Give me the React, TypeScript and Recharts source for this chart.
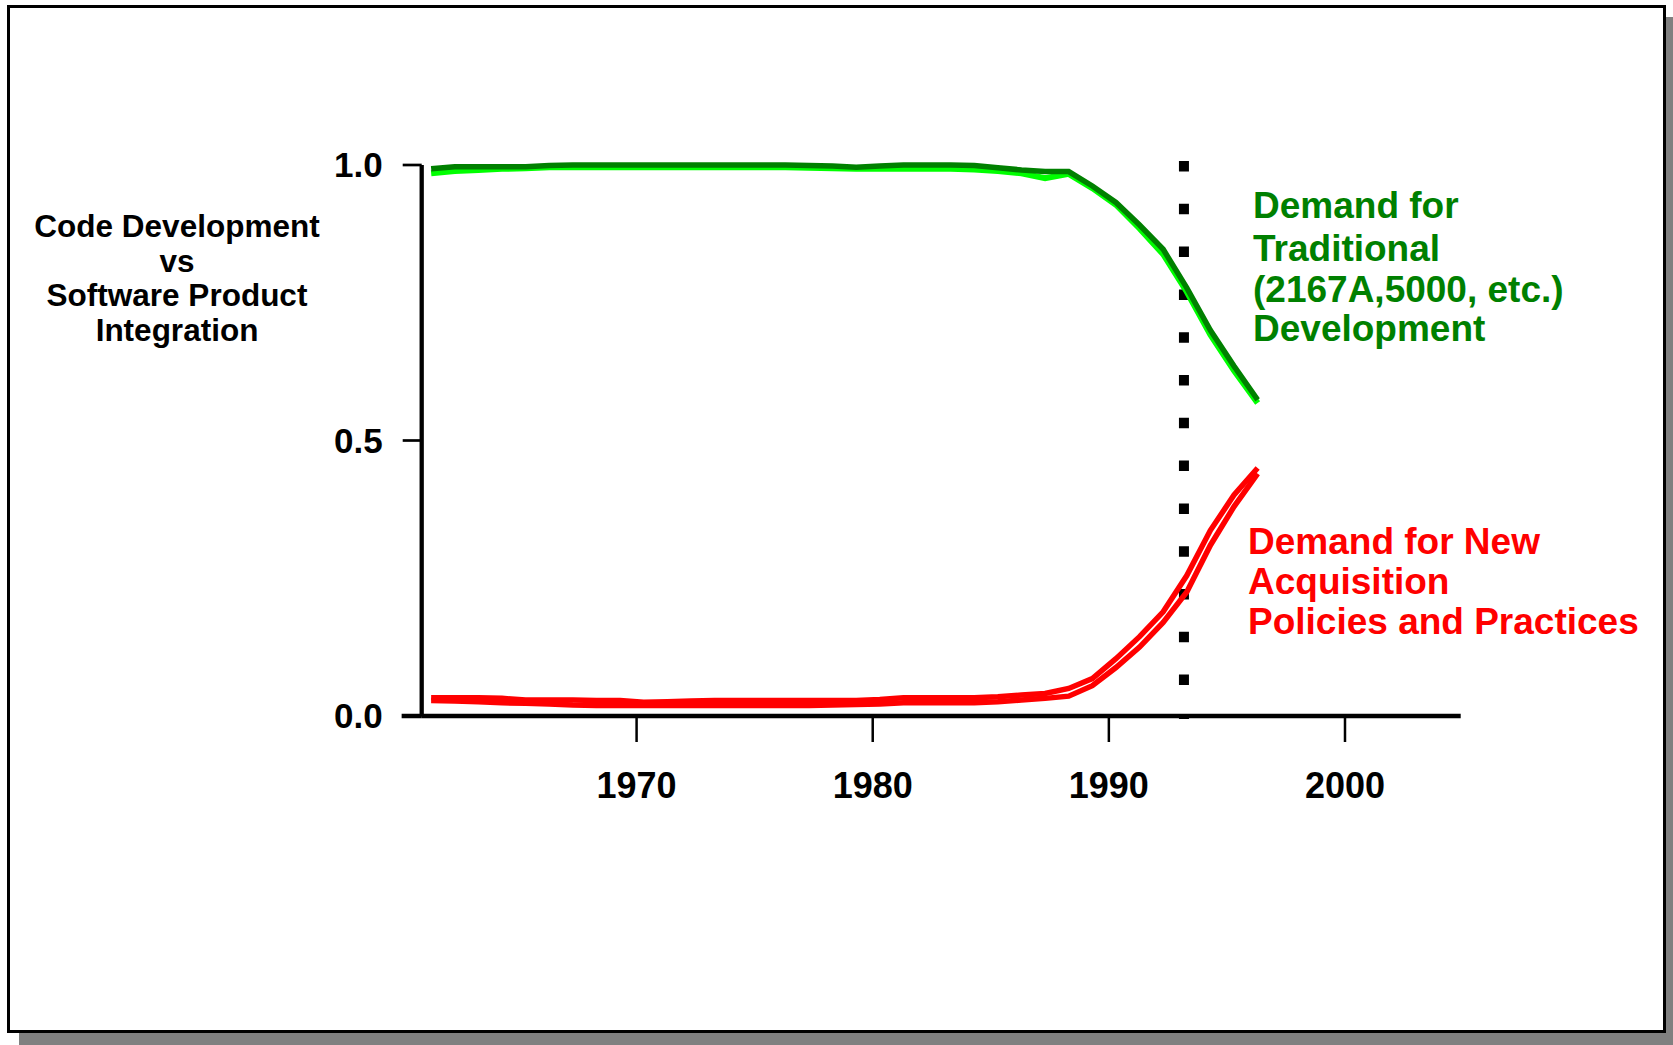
import { LineChart, Line, XAxis, YAxis, ReferenceLine } from "recharts";

const FONT = '"Liberation Sans", Arial, Helvetica, sans-serif';

// mid-year sample points
const years = [
  1961.3, 1962.3, 1963.3, 1964.3, 1965.3, 1966.3, 1967.3, 1968.3, 1969.3, 1970.3, 1971.3, 1972.3,
  1973.3, 1974.3, 1975.3, 1976.3, 1977.3, 1978.3, 1979.3, 1980.3, 1981.3, 1982.3, 1983.3, 1984.3,
  1985.3, 1986.3, 1987.3, 1988.3, 1989.3, 1990.3, 1991.3, 1992.3, 1993.3, 1994.3, 1995.3, 1996.3,
];

const traditionalDark = [
  0.993, 0.997, 0.997, 0.997, 0.997, 0.999, 1.0, 1.0, 1.0, 1.0, 1.0, 1.0,
  1.0, 1.0, 1.0, 1.0, 0.999, 0.998, 0.996, 0.998, 1.0, 1.0, 1.0, 0.999,
  0.995, 0.991, 0.988, 0.988, 0.962, 0.932, 0.891, 0.847, 0.777, 0.7, 0.635, 0.574,
];

const traditionalLight = [
  0.985, 0.989, 0.991, 0.993, 0.994, 0.996, 0.996, 0.996, 0.996, 0.996, 0.996, 0.996,
  0.996, 0.996, 0.996, 0.996, 0.995, 0.994, 0.993, 0.993, 0.993, 0.993, 0.993, 0.992,
  0.989, 0.985, 0.976, 0.984, 0.958, 0.928, 0.885, 0.838, 0.77, 0.692, 0.627, 0.568,
];

const acquisitionUpper = [
  0.033, 0.033, 0.033, 0.032, 0.029, 0.029, 0.029, 0.028, 0.028, 0.025, 0.026, 0.027,
  0.028, 0.028, 0.028, 0.028, 0.028, 0.028, 0.028, 0.03, 0.033, 0.033, 0.033, 0.033,
  0.035, 0.038, 0.041, 0.05, 0.068, 0.104, 0.144, 0.189, 0.255, 0.337, 0.401, 0.45,
];

const acquisitionLower = [
  0.028, 0.027, 0.026, 0.024, 0.023, 0.022, 0.02, 0.019, 0.019, 0.019, 0.019, 0.019,
  0.019, 0.019, 0.019, 0.019, 0.019, 0.02, 0.021, 0.022, 0.024, 0.024, 0.024, 0.024,
  0.026, 0.029, 0.032, 0.036, 0.055, 0.088, 0.125, 0.17, 0.225, 0.31, 0.38, 0.44,
];

const xTicks = [1970, 1980, 1990, 2000];
const yTicks = [0, 0.5, 1];
const cutoverYear = 1993.18;

const yLabelLines = ["Code Development", "vs", "Software Product", "Integration"];
const greenNoteLines = ["Demand for", "Traditional", "(2167A,5000, etc.)", "Development"];
const redNoteLines = ["Demand for New", "Acquisition", "Policies and Practices"];

const data = years.map((year, i) => ({
  year,
  darkGreen: traditionalDark[i],
  lightGreen: traditionalLight[i],
  redUpper: acquisitionUpper[i],
  redLower: acquisitionLower[i],
}));

export default function App() {
  return (
    <div style={{ position: "absolute", left: 0, top: 0, width: 1673, height: 1045, overflow: "hidden", background: "#fff" }}>
      {/* drop shadow + frame */}
      <div style={{ position: "absolute", left: 19, top: 17, width: 1654, height: 1028, background: "#808080" }} />
      <div style={{ position: "absolute", left: 7, top: 5, width: 1659, height: 1028, border: "3px solid #000", boxSizing: "border-box", background: "#fff" }} />

      <div style={{ position: "absolute", left: 0, top: 0 }}>
        <LineChart width={1673} height={1045} data={data} margin={{ top: 165, right: 212.3, bottom: 269, left: 361.7 }}>
          <XAxis
            type="number"
            dataKey="year"
            domain={[1960.9, 2004.9]}
            allowDataOverflow
            ticks={xTicks}
            interval={0}
            height={60}
            axisLine={{ stroke: "#000", strokeWidth: 4.5 }}
            tickLine={{ stroke: "#000", strokeWidth: 2.5 }}
            tickSize={26}
            tickMargin={30}
            tick={{ fill: "#000", fontSize: 36, fontWeight: 700, fontFamily: FONT }}
          />
          <YAxis
            type="number"
            domain={[0, 1]}
            ticks={yTicks}
            interval={0}
            width={60}
            tickFormatter={(v: number) => v.toFixed(1)}
            axisLine={{ stroke: "#000", strokeWidth: 4.3 }}
            tickLine={{ stroke: "#000", strokeWidth: 2.7 }}
            tickSize={19}
            tickMargin={20}
            tick={{ fill: "#000", fontSize: 35, fontWeight: 700, fontFamily: FONT }}
          />
          {/* x axis line runs a little past the y axis */}
          <ReferenceLine segment={[{ x: 1960.05, y: 0 }, { x: 1960.9, y: 0 }]} stroke="#000" strokeWidth={4.5} ifOverflow="visible" />
          <ReferenceLine
            segment={[{ x: cutoverYear, y: 1.0073 }, { x: cutoverYear, y: -0.0054 }]}
            stroke="#000"
            strokeWidth={10}
            strokeDasharray="10.5 32.3"
            ifOverflow="visible"
          />
          <Line type="linear" dataKey="lightGreen" stroke="#00ff00" strokeWidth={6} dot={false} isAnimationActive={false} />
          <Line type="linear" dataKey="darkGreen" stroke="#008000" strokeWidth={5.5} dot={false} isAnimationActive={false} />
          <Line type="linear" dataKey="redLower" stroke="#ff0000" strokeWidth={5.5} dot={false} isAnimationActive={false} />
          <Line type="linear" dataKey="redUpper" stroke="#ff0000" strokeWidth={5.5} dot={false} isAnimationActive={false} />
        </LineChart>
      </div>

      <svg width={1673} height={1045} style={{ position: "absolute", left: 0, top: 0, pointerEvents: "none" }}>
        <g fontFamily={FONT} fontWeight={700}>
          {yLabelLines.map((t, i) => (
            <text key={t} x={177} y={237 + i * 34.5} fontSize={31.5} textAnchor="middle" fill="#000">{t}</text>
          ))}
          {greenNoteLines.map((t, i) => (
            <text key={t} x={1253} y={[218, 260.5, 302, 340.5][i]} fontSize={37} fill="#008000">{t}</text>
          ))}
          {redNoteLines.map((t, i) => (
            <text key={t} x={1248} y={554 + i * 40} fontSize={37} fill="#ff0000">{t}</text>
          ))}
        </g>
      </svg>
    </div>
  );
}
